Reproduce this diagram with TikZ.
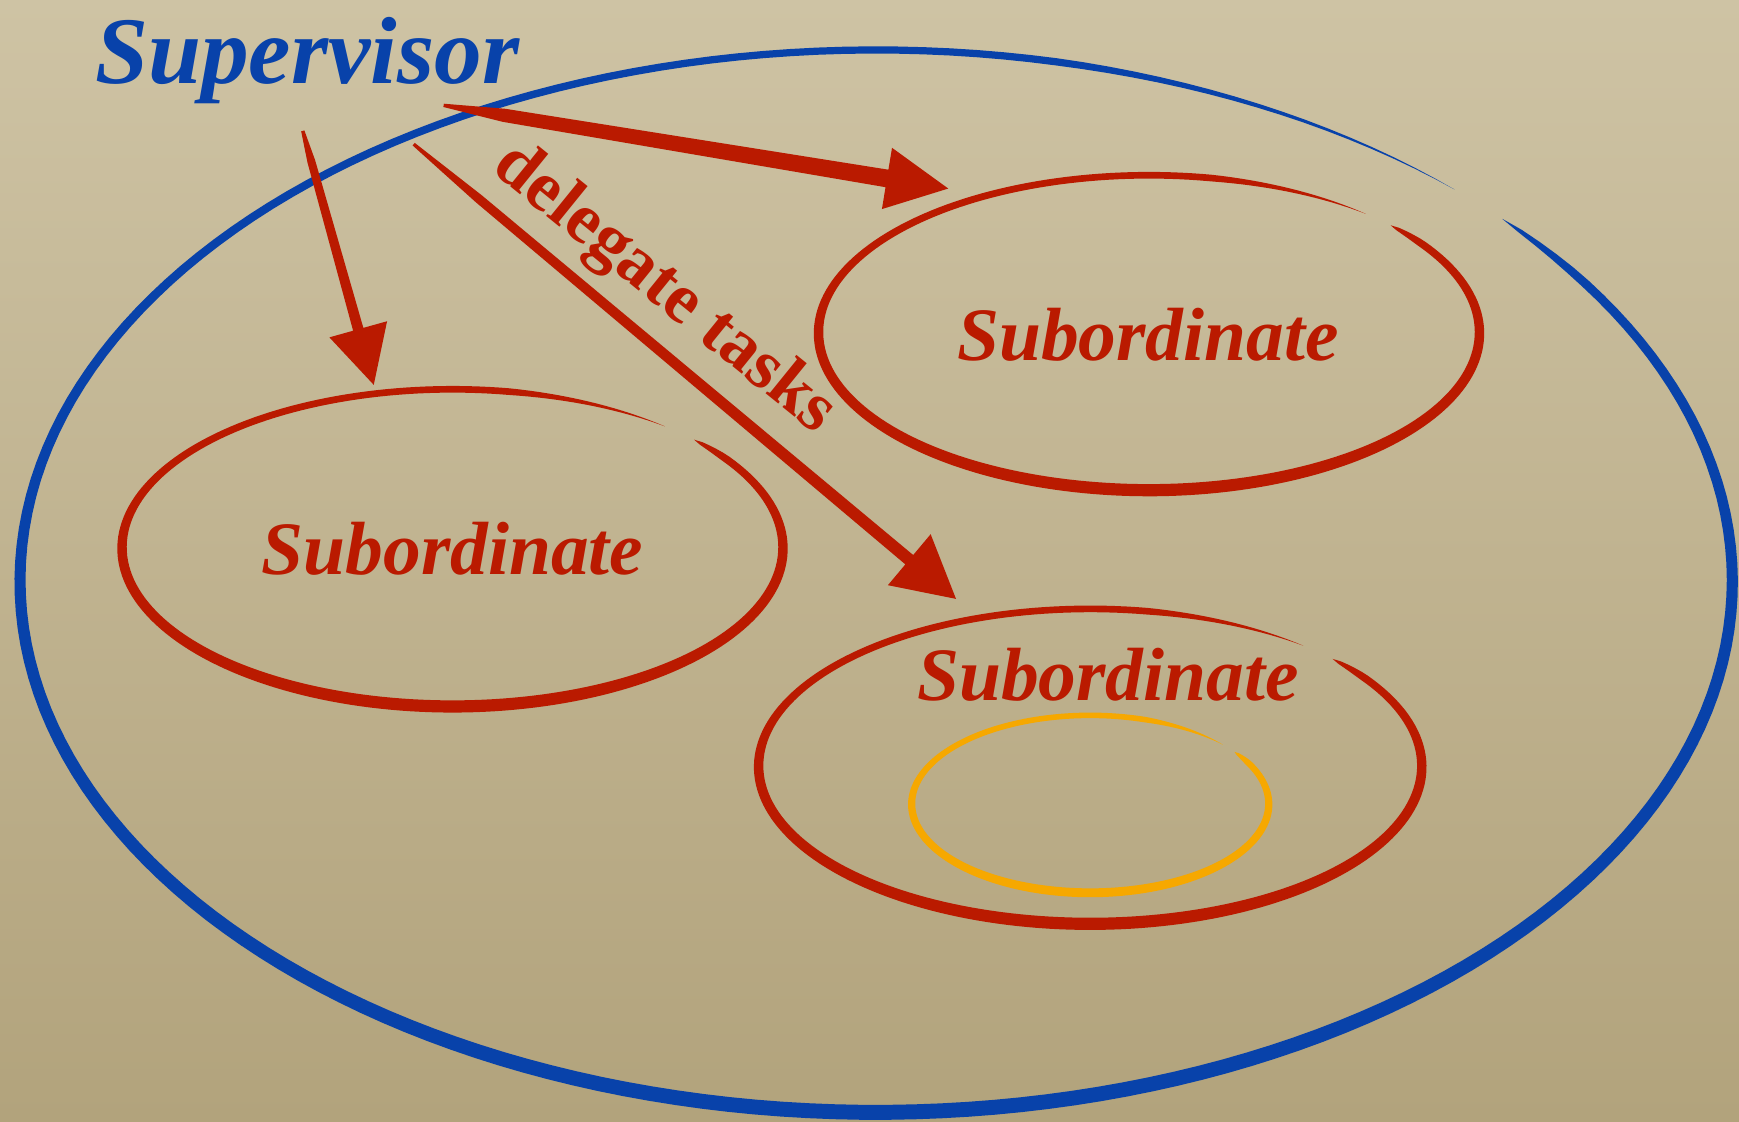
\documentclass[tikz,border=0pt]{standalone}
\usepackage{fontspec}
\setmainfont{Liberation Serif}
\usetikzlibrary{calc}
\definecolor{bgtop}{RGB}{206,195,164}
\definecolor{bgbot}{RGB}{178,163,124}
\definecolor{supblue}{RGB}{8,66,170}
\definecolor{subred}{RGB}{186,26,0}
\definecolor{innerorange}{RGB}{246,168,0}

\tikzset{
  lbl/.style={font=\fontsize{68}{70}\selectfont\bfseries\itshape, inner sep=0pt, anchor=base},
  suplbl/.style={font=\fontsize{86}{90}\selectfont\bfseries\itshape, inner sep=0pt, anchor=base},
  dlbl/.style={font=\fontsize{64}{66}\selectfont\bfseries, inner sep=0pt, anchor=base},
}

% variable-width brush ellipse: #1 style, #2 cx, #3 cy, #4 a, #5 b, #6 start, #7 end, #8 w0, #9 w1
\newcommand{\brushring}[9]{%
  \fill[#1] plot[domain=#6:#7, samples=200, variable=\t]
    ({#2+(#4+0.5*bw(\t,#6,#7,#8,#9))*cos(\t)},{#3+(#5+0.5*bw(\t,#6,#7,#8,#9))*sin(\t)})
    -- plot[domain=#7:#6, samples=200, variable=\t]
    ({#2+(#4-0.5*bw(\t,#6,#7,#8,#9))*cos(\t)},{#3+(#5-0.5*bw(\t,#6,#7,#8,#9))*sin(\t)})
    -- cycle;}

% tapered arrow: #1 tail, #2 tip, #3 tail half width, #4 shaft half width, #5 head length, #6 head half width
\newcommand{\taparrow}[6]{%
  \coordinate (hb) at ($(#2)!#5!(#1)$);
  \coordinate (tm) at ($(#1)!0.12!(#2)$);
  \fill[subred] ($(#1)!#3!90:(#2)$) -- ($(tm)!0.75*#4!90:(#2)$) -- ($(hb)!#4!90:(#2)$) -- ($(hb)!#6!90:(#2)$)
    -- (#2) -- ($(hb)!#6!-90:(#2)$) -- ($(hb)!#4!-90:(#2)$) -- ($(tm)!0.75*#4!-90:(#2)$) -- ($(#1)!#3!-90:(#2)$) -- cycle;}

\begin{document}
\begin{tikzpicture}[x=1pt, y=-1pt,
  declare function={bw(\t,\s,\z,\p,\q)=(\p+\q*sin(\t))*sqrt(min(1,(\t-(\s))/8))*min(1,((\z)-\t)/30);}]
\useasboundingbox (0,0) rectangle (1568,1011);
\shade[top color=bgtop, bottom color=bgbot] (0,0) rectangle (1568,1011);

% outer supervisor ellipse
\brushring{supblue}{790}{524}{772}{479}{-43}{312.5}{10}{3.5}

% subordinate ellipses
\brushring{subred}{1036}{300}{298}{142}{-43}{311}{8.5}{2.5}
\brushring{subred}{408}{494}{298}{143}{-43}{310}{8.5}{2.5}
\brushring{subred}{983}{691}{299}{142}{-43}{310}{8.5}{2.5}

% inner orange ellipse
\brushring{innerorange}{983}{725}{161}{80}{-36}{318}{6.5}{1.5}

% arrows
\coordinate (t1) at (400,95);  \coordinate (p1) at (855,170);
\coordinate (t2) at (273,118); \coordinate (p2) at (337,347);
\coordinate (t3) at (373,130); \coordinate (p3) at (862,540);
\taparrow{t1}{p1}{1.5pt}{8pt}{56pt}{28pt}
\taparrow{t2}{p2}{1.5pt}{4.8pt}{52pt}{27pt}
\taparrow{t3}{p3}{1.5pt}{5.5pt}{55pt}{30pt}

% labels
\node[suplbl, text=supblue] (sup) at (277,75) {Supervisor};
\node[lbl, text=subred] (subA) at (1035,325) {Subordinate};
\node[lbl, text=subred] (subB) at (408,518) {Subordinate};
\node[lbl, text=subred] (subC) at (999,632) {Subordinate};
\node[dlbl, text=subred, rotate=-39] (deleg) at (589,273) {delegate tasks};
\end{tikzpicture}
\end{document}
